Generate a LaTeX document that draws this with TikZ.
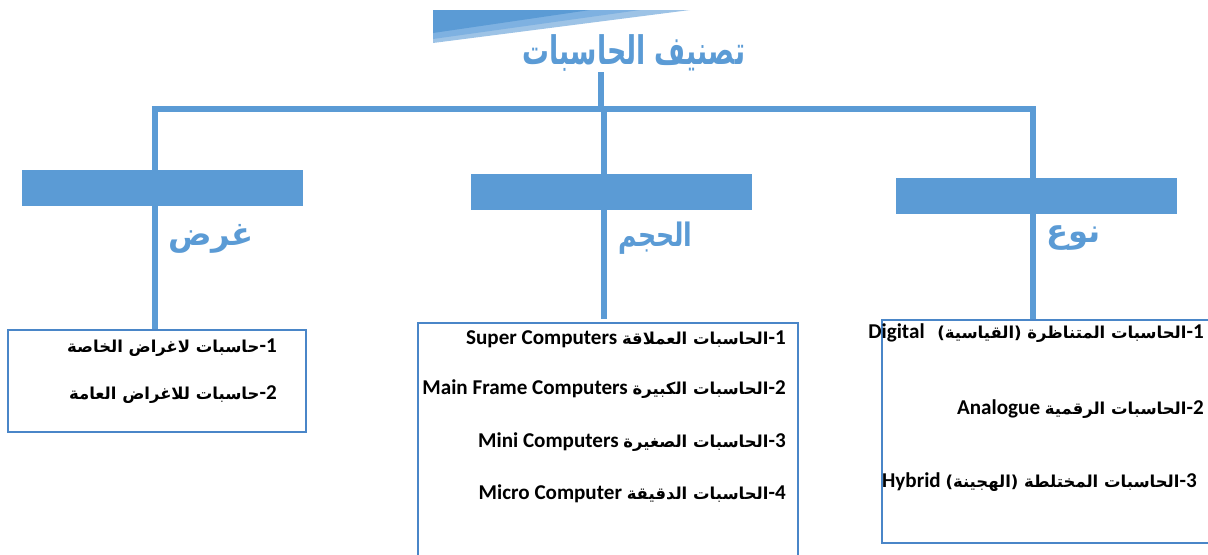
\documentclass[tikz,border=0pt]{standalone}
\usepackage{fontspec}
\setmainfont{Carlito}
\newfontfamily\arabicfont[Script=Arabic]{DejaVu Sans}
\newfontfamily\itemarabic[Script=Arabic,Scale=0.78]{DejaVu Sans}
\TeXXeTstate=1
\definecolor{treeBlue}{HTML}{5B9BD5}
\definecolor{treeLight}{HTML}{9DC3E6}
\definecolor{treeMid}{HTML}{7EB1E1}
\definecolor{frameBlue}{HTML}{4A86C8}

\begin{document}
\begin{tikzpicture}
[x=0.025cm,y=-0.025cm,
  barDecorate/.style={shape=rectangle,fill=treeBlue,inner sep=0pt,minimum width=7.025cm,minimum height=0.9cm},%
  boxDecorate/.style={shape=rectangle,draw=frameBlue,line width=1.4pt,inner sep=0pt},%
  lineDecorate/.style={-,draw=treeBlue,line width=4.3pt},%
  titleDecorate/.style={text=treeBlue,font=\arabicfont\bfseries\fontsize{28}{31}\selectfont,inner sep=0pt},%
  labelDecorate/.style={text=treeBlue,font=\arabicfont\bfseries\fontsize{23}{26}\selectfont,inner sep=0pt,anchor=west},%
  itemDecorate/.style={font=\bfseries\fontsize{15}{18}\selectfont,inner sep=0pt,anchor=east}]
\useasboundingbox (0,0) rectangle (1208,554);
%% banner
\fill[treeLight] (433,10) -- (690,10) -- (433,43) -- cycle;
\fill[treeMid] (433,10) -- (640,10) -- (433,39) -- cycle;
\fill[treeBlue] (433,10) -- (590,10) -- (433,33) -- cycle;
%% title
\node (title) at (634,53) [titleDecorate] {\scalebox{0.68}[1]{\beginR تصنيف الحاسبات\endR}};
%% junctions
\coordinate (top) at (601,109);
\foreach \nodename/\x in {jl/155, jm/604, jr/1033} {
  \coordinate (\nodename) at (\x,109);
}
%% boxes
\node (boxl) at (157,381) [boxDecorate,minimum width=7.45cm,minimum height=2.55cm] {};
\node (boxm) at (608,440) [boxDecorate,minimum width=9.5cm,minimum height=5.85cm] {};
\node (boxr) at (1048,431.5) [boxDecorate,minimum width=8.3cm,minimum height=5.575cm] {};
%% edges or lines
\draw[lineDecorate] (601,72) -- (top);
\draw[lineDecorate] ([xshift=-2.15pt]jl) -- ([xshift=2.15pt]jr);
\draw[lineDecorate] (jl) -- (jl |- boxl.north);
\draw[lineDecorate] (jm) -- ([yshift=2pt]jm |- boxm.north);
\draw[lineDecorate] (jr) -- (jr |- boxr.north);
%% bars
\foreach \nodename/\x/\y in {barl/162.5/188, barm/611.5/192, barr/1036.5/196} {
  \node (\nodename) at (\x,\y) [barDecorate] {};
}
%% labels
\node (lgoal) at (168,239) [labelDecorate] {\beginR غرض\endR};
\node (lsize) at (618,238) [labelDecorate] {\scalebox{0.78}[1]{\beginR الحجم\endR}};
\node (ltype) at (1046,238) [labelDecorate] {\beginR نوع\endR};
%% items
\node (l1) at (277,348) [itemDecorate] {\beginR 1\kern0pt-\kern0pt{\itemarabic حاسبات لاغراض الخاصة}\endR};
\node (l2) at (277,395) [itemDecorate] {\beginR 2\kern0pt-\kern0pt{\itemarabic حاسبات للاغراض العامة}\endR};
\node (m1) at (786,339) [itemDecorate] {\beginR 1\kern0pt-\kern0pt{\itemarabic الحاسبات العملاقة} \beginL Super Computers\endL\endR};
\node (m2) at (786,389) [itemDecorate] {\beginR 2\kern0pt-\kern0pt{\itemarabic الحاسبات الكبيرة} \beginL Main Frame Computers\endL\endR};
\node (m3) at (786,442) [itemDecorate] {\beginR 3\kern0pt-\kern0pt{\itemarabic الحاسبات الصغيرة} \beginL Mini Computers\endL\endR};
\node (m4) at (786,494) [itemDecorate] {\beginR 4\kern0pt-\kern0pt{\itemarabic الحاسبات الدقيقة} \beginL Micro Computer\endL\endR};
\node (r1) at (1204,333) [itemDecorate] {\beginR 1\kern0pt-\kern0pt{\itemarabic الحاسبات المتناظرة (القياسية)}\hspace{0.6em}\beginL Digital\endL\endR};
\node (r2) at (1204,409) [itemDecorate] {\beginR 2\kern0pt-\kern0pt{\itemarabic الحاسبات الرقمية} \beginL Analogue\endL\endR};
\node (r3) at (1197,482) [itemDecorate] {\beginR 3\kern0pt-\kern0pt{\itemarabic الحاسبات المختلطة (الهجينة)} \beginL Hybrid\endL\endR};
\end{tikzpicture}
\end{document}
